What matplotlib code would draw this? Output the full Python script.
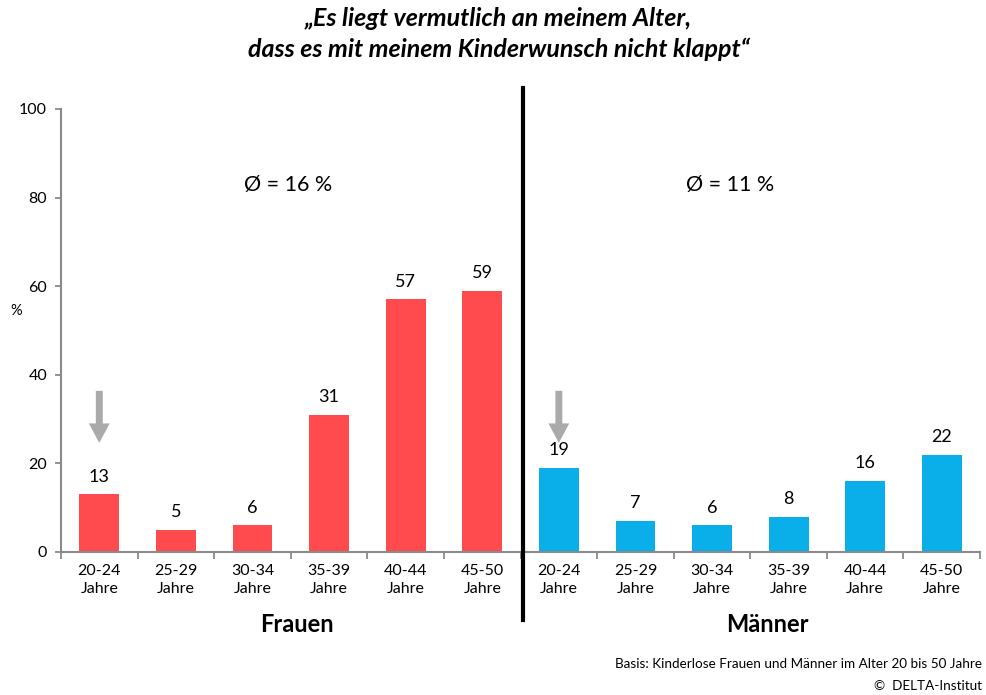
import numpy as np
import matplotlib.pyplot as plt
from matplotlib.lines import Line2D

plt.rcParams["font.family"] = ["Lato", "DejaVu Sans"]

age_groups = ["20-24\nJahre", "25-29\nJahre", "30-34\nJahre", "35-39\nJahre", "40-44\nJahre", "45-50\nJahre"]
frauen = [13, 5, 6, 31, 57, 59]
maenner = [19, 7, 6, 8, 16, 22]
avg_labels = ["Ø = 16 %", "Ø = 11 %"]
group_labels = ["Frauen", "Männer"]

red = "#FF4B4E"
blue = "#0AAEE8"
grey = "#8a8a8a"

fig = plt.figure(figsize=(9.87, 6.95), dpi=100)
ax = fig.add_axes([0.0618, 0.2058, 0.9312, 0.6374])

n = len(age_groups)
x_f = np.arange(n)
x_m = np.arange(n) + n
ax.bar(x_f, frauen, width=0.52, color=red)
ax.bar(x_m, maenner, width=0.52, color=blue)

for xs, vals in [(x_f, frauen), (x_m, maenner)]:
    for xi, v in zip(xs, vals):
        ax.text(xi, v + 2.2, str(v), ha="center", va="bottom", fontsize=13)

ax.set_xlim(-0.5, 2 * n - 0.5)
ax.set_ylim(0, 100)
ax.set_yticks(range(0, 101, 20))
ax.set_xticks(np.arange(2 * n))
ax.set_xticklabels(age_groups * 2, fontsize=11.5, linespacing=1.3)
ax.set_xticks(np.arange(2 * n + 1) - 0.5, minor=True)
ax.tick_params(axis="x", which="major", length=0, pad=9)
ax.tick_params(axis="x", which="minor", length=5, color=grey, width=1.3, direction="out")
ax.tick_params(axis="y", length=4, color=grey, width=1.3, labelsize=11.5, pad=6)

for s in ["top", "right"]:
    ax.spines[s].set_visible(False)
for s in ["left", "bottom"]:
    ax.spines[s].set_color(grey)
    ax.spines[s].set_linewidth(1.5)

ax.text(-0.055, 0.545, "%", transform=ax.transAxes, ha="left", va="center", fontsize=10.5)

# arrows over first bar of each group
for xi in [x_f[0], x_m[0]]:
    ax.annotate("", xy=(xi, 24), xytext=(xi, 37),
                arrowprops=dict(arrowstyle="simple,head_width=1.5,head_length=1.4,tail_width=0.5",
                                color="#aaaaaa", lw=0))

# averages
ax.text(2.46, 82.8, avg_labels[0], ha="center", va="center", fontsize=15.5)
ax.text(8.23, 82.8, avg_labels[1], ha="center", va="center", fontsize=15.5)

# divider
fig.add_artist(Line2D([523 / 987, 523 / 987], [1 - 88 / 695, 1 - 620 / 695],
                      color="black", lw=3))

# group labels
fig.text(297 / 987, 1 - 625 / 695, group_labels[0], ha="center", va="center",
         fontsize=17, fontweight="bold")
fig.text(767 / 987, 1 - 625 / 695, group_labels[1], ha="center", va="center",
         fontsize=17, fontweight="bold")

fig.text(0.505, 1 - 34 / 695,
         "„Es liegt vermutlich an meinem Alter,\ndass es mit meinem Kinderwunsch nicht klappt“",
         ha="center", va="center", fontsize=18, fontweight="bold", style="italic",
         linespacing=1.38)

fig.text(982 / 987, 1 - 664 / 695, "Basis: Kinderlose Frauen und Männer im Alter 20 bis 50 Jahre",
         ha="right", va="center", fontsize=9.7)
fig.text(982 / 987, 1 - 686 / 695, "©  DELTA-Institut", ha="right", va="center", fontsize=9.7)

fig.savefig("out.png", dpi=100)
